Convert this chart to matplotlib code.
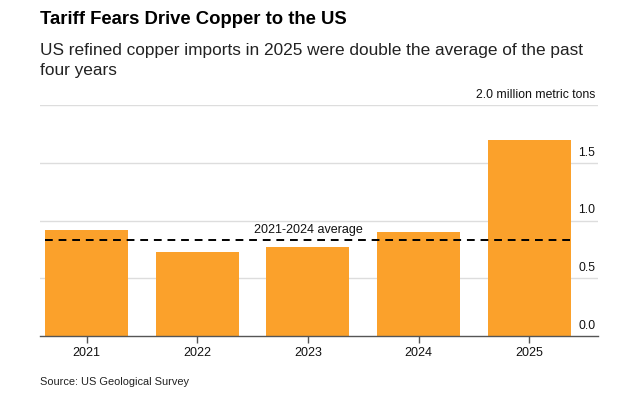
import matplotlib
matplotlib.use("Agg")
import matplotlib.pyplot as plt
import matplotlib.transforms as mtransforms

years = ["2021", "2022", "2023", "2024", "2025"]
imports = [0.92, 0.73, 0.77, 0.90, 1.70]
average_2021_2024 = sum(imports[:4]) / 4
y_ticks = [0.0, 0.5, 1.0, 1.5, 2.0]
y_tick_labels = ["0.0", "0.5", "1.0", "1.5", "2.0 million metric tons"]

plt.rcParams['font.family'] = ['Liberation Sans', 'DejaVu Sans']

fig = plt.figure(figsize=(6.19, 4.0), dpi=100)
ax = fig.add_axes([40/619, 1-336/400, (598-40)/619, (336-105)/400])

bar_color = "#FBA12B"
x = list(range(len(years)))
ax.bar(x, imports, width=0.75, color=bar_color, zorder=2)
ax.set_xlim(-0.42, 4.62)
ax.set_ylim(0, 2.0)

for t in y_ticks[1:]:
    ax.axhline(t, color="#dddddd", lw=1, zorder=1)

ax.plot([-0.375, 4.375], [average_2021_2024]*2, color="black", lw=1.4,
        dashes=(4, 3), zorder=3)
ax.text(2.0, average_2021_2024 + 0.035, "2021-2024 average", ha="center",
        va="bottom", fontsize=9, color="#111111", zorder=4)

trans = mtransforms.blended_transform_factory(ax.transAxes, ax.transData)
for t, lab in zip(y_ticks, y_tick_labels):
    ax.text(0.995, t + 0.035, lab, transform=trans, ha="right", va="bottom",
            fontsize=8.8, color="#111111")

for s in ["top", "right", "left"]:
    ax.spines[s].set_visible(False)
ax.spines["bottom"].set_color("#555555")
ax.spines["bottom"].set_linewidth(1)
ax.set_yticks([])
ax.set_xticks(x)
ax.set_xticklabels(years, fontsize=9, color="#111111")
ax.tick_params(axis="x", length=5, width=1, color="#555555", pad=3)

fig.text(40/619, 1-20/400, "Tariff Fears Drive Copper to the US", fontsize=13.3,
         fontweight="bold", ha="left", va="center", color="black")
fig.text(40/619, 1-50/400, "US refined copper imports in 2025 were double the average of the past",
         fontsize=12.4, ha="left", va="center", color="#222222")
fig.text(40/619, 1-71/400, "four years",
         fontsize=12.4, ha="left", va="center", color="#222222")
fig.text(40/619, 1-382/400, "Source: US Geological Survey", fontsize=7.9,
         ha="left", va="center", color="#222222")

fig.savefig("out.png", dpi=100)
